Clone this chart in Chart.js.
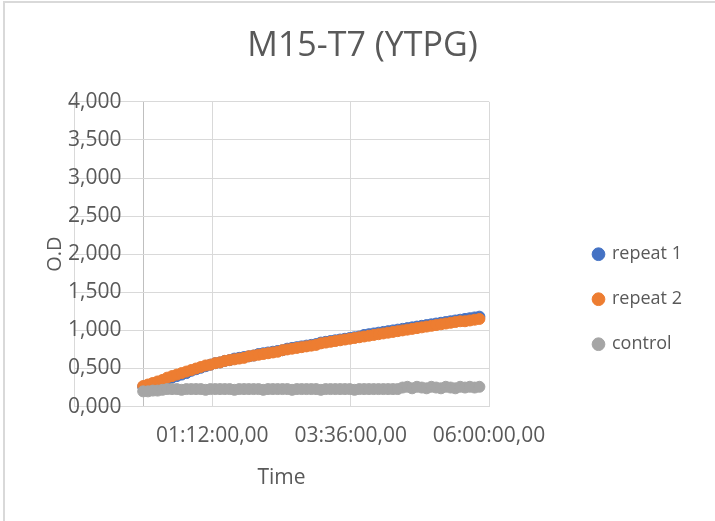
<!DOCTYPE html>
<html>
<head>
<meta charset="utf-8">
<script src="https://cdn.jsdelivr.net/npm/chart.js@4.4.1/dist/chart.umd.min.js"></script>
<style>
    body { margin: 0; background: #fff; }
    #wrap { position: relative; width: 715px; height: 521px; }
    #frame { position: absolute; left: 3px; top: 1px; right: 0; bottom: 0;
             border-top: 2px solid #d9d9d9; border-left: 2px solid #d9d9d9; pointer-events: none; }
</style>
</head>
<body>
<div id="wrap">
    <canvas id="myChart"></canvas>
    <div id="frame"></div>
</div>
<script>
// time in minutes since start
let times = [
    0, 5, 10, 15, 20, 25, 30, 35, 40, 45,
    50, 55, 60, 65, 70, 75, 80, 85, 90, 95,
    100, 105, 110, 115, 120, 125, 130, 135, 140, 145,
    150, 155, 160, 165, 170, 175, 180, 185, 190, 195,
    200, 205, 210, 215, 220, 225, 230, 235, 240, 245,
    250, 255, 260, 265, 270, 275, 280, 285, 290, 295,
    300, 305, 310, 315, 320, 325, 330, 335, 340, 345,
    350
];
let repeat1 = [
    0.26, 0.28, 0.30, 0.32, 0.34, 0.36, 0.38, 0.40, 0.42, 0.44,
    0.47, 0.49, 0.51, 0.53, 0.55, 0.57, 0.58, 0.60, 0.61, 0.63,
    0.64, 0.65, 0.66, 0.67, 0.69, 0.70, 0.71, 0.72, 0.73, 0.74,
    0.76, 0.77, 0.78, 0.79, 0.80, 0.81, 0.82, 0.84, 0.85, 0.86,
    0.87, 0.88, 0.89, 0.90, 0.91, 0.92, 0.94, 0.95, 0.96, 0.97,
    0.98, 0.99, 1.00, 1.01, 1.02, 1.03, 1.04, 1.05, 1.06, 1.07,
    1.08, 1.09, 1.10, 1.11, 1.12, 1.13, 1.14, 1.15, 1.16, 1.17,
    1.18
];
let repeat2 = [
    0.27, 0.29, 0.31, 0.33, 0.35, 0.38, 0.40, 0.42, 0.44, 0.46,
    0.48, 0.50, 0.52, 0.54, 0.55, 0.57, 0.58, 0.60, 0.61, 0.62,
    0.63, 0.64, 0.66, 0.67, 0.68, 0.69, 0.70, 0.71, 0.72, 0.74,
    0.75, 0.76, 0.77, 0.78, 0.79, 0.80, 0.81, 0.83, 0.84, 0.85,
    0.86, 0.87, 0.88, 0.89, 0.90, 0.91, 0.92, 0.93, 0.94, 0.95,
    0.96, 0.97, 0.98, 0.99, 1.00, 1.01, 1.02, 1.03, 1.04, 1.05,
    1.06, 1.07, 1.08, 1.09, 1.10, 1.11, 1.12, 1.12, 1.13, 1.14,
    1.15
];
let control = [
    0.20, 0.20, 0.21, 0.21, 0.22, 0.23, 0.23, 0.23, 0.22, 0.23,
    0.23, 0.23, 0.23, 0.22, 0.23, 0.23, 0.23, 0.23, 0.23, 0.22,
    0.23, 0.23, 0.23, 0.23, 0.23, 0.22, 0.23, 0.23, 0.23, 0.23,
    0.23, 0.22, 0.23, 0.23, 0.23, 0.23, 0.23, 0.22, 0.23, 0.23,
    0.23, 0.23, 0.23, 0.23, 0.22, 0.23, 0.23, 0.23, 0.23, 0.23,
    0.23, 0.23, 0.23, 0.23, 0.25, 0.26, 0.24, 0.26, 0.25, 0.24,
    0.26, 0.25, 0.24, 0.26, 0.25, 0.24, 0.26, 0.25, 0.26, 0.25,
    0.26
];
let seriesNames = ["repeat 1", "repeat 2", "control"];
let seriesColors = ["#4472c4", "#ed7d31", "#a5a5a5"];
// x gridlines (minutes); the one at 0 is the vertical axis
let xTicks = [-72, 0, 72, 216, 360];

function points(values) {
    let out = [];
    for (let i = 0; i < values.length; i++) {
        out.push({ x: times[i], y: values[i] });
    }
    return out;
}

function timeLabel(v) {
    if (v <= 0) return "";
    let h = Math.floor(v / 60);
    let m = Math.round(v % 60);
    return String(h).padStart(2, "0") + ":" + String(m).padStart(2, "0") + ":00,00";
}

Chart.defaults.font.family = "'Open Sans', sans-serif";
Chart.defaults.color = "#595959";

let allValues = [repeat1, repeat2, control];
let datasets = [];
for (let i = 0; i < allValues.length; i++) {
    datasets.push({
        label: seriesNames[i],
        data: points(allValues[i]),
        backgroundColor: seriesColors[i],
        borderColor: seriesColors[i],
        borderWidth: 1,
        pointRadius: 5.5,
        pointHoverRadius: 5.5,
        showLine: false,
        order: 3 - i
    });
}

const ctx = document.getElementById("myChart").getContext("2d");
const chart = new Chart(ctx, {
    type: "scatter",
    data: { datasets: datasets },
    options: {
        responsive: true,
        maintainAspectRatio: false,
        animation: false,
        layout: { padding: { left: 43, right: 33, top: 0, bottom: 22 } },
        scales: {
            x: {
                type: "linear",
                position: "bottom",
                min: -72,
                max: 360,
                afterBuildTicks: (scale) => {
                    scale.ticks = xTicks.map((v) => ({ value: v }));
                },
                grid: {
                    drawTicks: false,
                    color: (c) => (c.tick && c.tick.value === 0) ? "#bfbfbf" : "#d9d9d9"
                },
                border: { color: "#d9d9d9" },
                ticks: {
                    autoSkip: false,
                    maxRotation: 0,
                    padding: 17,
                    font: { size: 21 },
                    callback: (v) => timeLabel(v)
                },
                title: {
                    display: true,
                    text: "Time",
                    font: { size: 21 },
                    padding: { top: 0, bottom: 8 }
                }
            },
            y: {
                type: "linear",
                position: "left",
                min: 0,
                max: 4,
                afterFit: (scale) => { scale.width = 31; },
                grid: { color: "#d9d9d9", drawTicks: false },
                border: { color: "#d9d9d9" },
                ticks: {
                    stepSize: 0.5,
                    mirror: true,
                    crossAlign: "far",
                    padding: -6,
                    font: { size: 21 },
                    callback: (v) => v.toFixed(3).replace(".", ",")
                },
                title: {
                    display: true,
                    text: "O.D",
                    font: { size: 20 },
                    padding: { top: 0, bottom: 7 }
                }
            },
            yr: {
                type: "linear",
                position: "right",
                min: 0,
                max: 4,
                grid: { display: false, drawTicks: false },
                border: { display: false },
                ticks: { display: false },
                afterFit: (scale) => { scale.width = 78; }
            }
        },
        plugins: {
            title: {
                display: true,
                text: "M15-T7 (YTPG)",
                font: { size: 34, weight: "normal" },
                padding: { top: 26, bottom: 35 }
            },
            legend: {
                position: "right",
                align: "center",
                maxWidth: 115,
                title: { display: true, text: "", font: { size: 12 }, padding: { top: 0, bottom: 85 } },
                labels: {
                    usePointStyle: true,
                    pointStyle: "circle",
                    boxWidth: 9,
                    boxHeight: 9,
                    padding: 27,
                    font: { size: 18 },
                    sort: (a, b) => a.datasetIndex - b.datasetIndex
                }
            },
            tooltip: { enabled: false }
        }
    }
});
</script>
</body>
</html>
